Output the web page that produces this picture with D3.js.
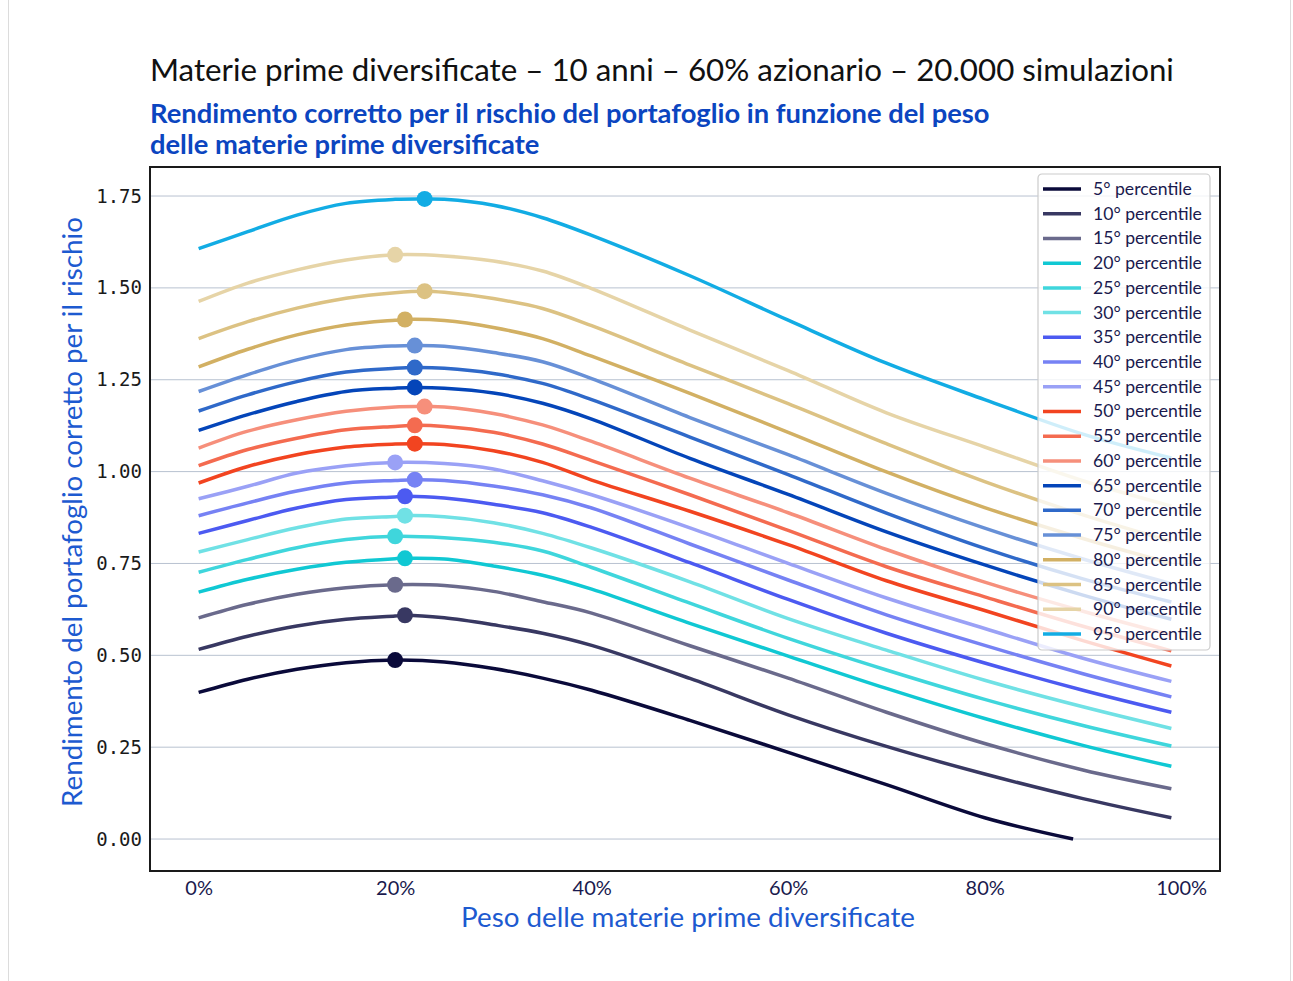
<!DOCTYPE html>
<html>
<head>
<meta charset="utf-8">
<script src="https://cdn.jsdelivr.net/npm/d3@7/dist/d3.min.js"></script>
<style>
  body { margin: 0; background: #fff; }
  svg { display: block; }
</style>
</head>
<body>
<script>
// pesi delle materie prime (%)
var weights = [0, 5, 10, 15, 20, 25, 30, 35, 40, 50, 60, 70, 80, 90, 99];

var p05 = [0.399, 0.435, 0.462, 0.480, 0.487, 0.482, 0.464, 0.438, 0.405, 0.323, 0.236, 0.148, 0.058, null, null];
var p10 = [0.516, 0.552, 0.580, 0.598, 0.607, 0.602, 0.583, 0.560, 0.527, 0.437, 0.338, 0.252, 0.177, 0.110, 0.058];
var p15 = [0.602, 0.639, 0.666, 0.684, 0.692, 0.690, 0.674, 0.646, 0.615, 0.526, 0.438, 0.345, 0.260, 0.188, 0.137];
var p20 = [0.672, 0.707, 0.734, 0.753, 0.763, 0.762, 0.743, 0.718, 0.680, 0.587, 0.498, 0.410, 0.328, 0.255, 0.198];
var p25 = [0.726, 0.761, 0.793, 0.815, 0.824, 0.820, 0.808, 0.784, 0.739, 0.642, 0.546, 0.460, 0.380, 0.309, 0.253];
var p30 = [0.781, 0.815, 0.847, 0.871, 0.878, 0.877, 0.861, 0.832, 0.792, 0.700, 0.600, 0.514, 0.432, 0.360, 0.301];
var p35 = [0.832, 0.867, 0.901, 0.924, 0.931, 0.928, 0.911, 0.888, 0.848, 0.752, 0.652, 0.560, 0.479, 0.405, 0.345];
var p40 = [0.880, 0.915, 0.947, 0.969, 0.976, 0.976, 0.961, 0.937, 0.901, 0.803, 0.705, 0.610, 0.527, 0.450, 0.387];
var p45 = [0.926, 0.960, 0.996, 1.016, 1.025, 1.022, 1.007, 0.975, 0.937, 0.847, 0.750, 0.656, 0.573, 0.492, 0.429];
var p50 = [0.969, 1.014, 1.046, 1.067, 1.075, 1.074, 1.057, 1.025, 0.977, 0.892, 0.801, 0.703, 0.622, 0.540, 0.471];
var p55 = [1.016, 1.060, 1.091, 1.114, 1.123, 1.123, 1.107, 1.075, 1.030, 0.937, 0.840, 0.741, 0.659, 0.579, 0.512];
var p60 = [1.064, 1.110, 1.141, 1.164, 1.176, 1.176, 1.158, 1.127, 1.082, 0.982, 0.888, 0.788, 0.699, 0.620, 0.555];
var p65 = [1.112, 1.155, 1.191, 1.218, 1.227, 1.227, 1.214, 1.186, 1.143, 1.036, 0.938, 0.836, 0.746, 0.664, 0.598];
var p70 = [1.165, 1.209, 1.245, 1.271, 1.281, 1.281, 1.267, 1.240, 1.196, 1.094, 0.992, 0.887, 0.791, 0.708, 0.645];
var p75 = [1.218, 1.264, 1.304, 1.332, 1.342, 1.341, 1.324, 1.299, 1.253, 1.147, 1.046, 0.941, 0.846, 0.762, 0.695];
var p80 = [1.285, 1.333, 1.372, 1.399, 1.412, 1.411, 1.392, 1.362, 1.314, 1.213, 1.107, 0.999, 0.902, 0.818, 0.750];
var p85 = [1.362, 1.408, 1.445, 1.472, 1.487, 1.488, 1.471, 1.444, 1.397, 1.290, 1.185, 1.076, 0.973, 0.882, 0.810];
var p90 = [1.463, 1.513, 1.549, 1.576, 1.590, 1.587, 1.573, 1.546, 1.498, 1.385, 1.275, 1.160, 1.067, 0.975, 0.906];
var p95 = [1.607, 1.653, 1.698, 1.730, 1.741, 1.741, 1.725, 1.691, 1.643, 1.533, 1.412, 1.295, 1.196, 1.102, 1.037];

// il 5° percentile si ferma a zero
var end05 = [89, 0.0];

var percentiles = [5, 10, 15, 20, 25, 30, 35, 40, 45, 50, 55, 60, 65, 70, 75, 80, 85, 90, 95];
var allValues = [p05, p10, p15, p20, p25, p30, p35, p40, p45, p50, p55, p60, p65, p70, p75, p80, p85, p90, p95];

// massimi (punti)
var peakWeights = [20, 21, 20, 21, 20, 21, 21, 22, 20, 22, 22, 23, 22, 22, 22, 21, 23, 20, 23];
var peakValues = [0.487, 0.609, 0.692, 0.764, 0.824, 0.880, 0.933, 0.978, 1.025, 1.076, 1.126, 1.177, 1.229, 1.283, 1.343, 1.414, 1.491, 1.590, 1.742];

var colors = ["#0a0a3a", "#383862", "#6a6a8c", "#10c8d3", "#3fd6dc", "#70e1e5",
              "#4c5af1", "#7682f4", "#9aa1f6", "#f24420", "#f46b50", "#f68f7b",
              "#0445b9", "#2f69c9", "#6790d7", "#d2b063", "#dcc283", "#e6d4a7", "#12ace4"];

var xTicks = [0, 20, 40, 60, 80, 100];
var yTicks = [0, 0.25, 0.5, 0.75, 1.0, 1.25, 1.5, 1.75];

var svgWidth = 1293;
var svgHeight = 981;
var plot = { left: 150, top: 167, right: 1220, bottom: 871 };

var svg = d3.select("body").append("svg")
    .attr("width", svgWidth)
    .attr("height", svgHeight);

svg.append("rect")
    .attr("x", 8.5).attr("y", -1)
    .attr("width", 1282).attr("height", 990)
    .attr("fill", "#fff")
    .attr("stroke", "#dcdcdc");

var sans = "'Source Sans Pro', Lato, 'Noto Sans', sans-serif";

function fitWidth(sel, w) {
    var len = sel.node().getComputedTextLength();
    var fs = parseFloat(sel.attr("font-size"));
    sel.attr("font-size", fs * w / len);
}

var title = svg.append("text")
    .attr("x", 150).attr("y", 81)
    .attr("font-family", sans).attr("font-size", 30)
    .attr("fill", "#111")
    .text("Materie prime diversificate \u2013 10 anni \u2013 60% azionario \u2013 20.000 simulazioni");
fitWidth(title, 1024);

var sub1 = svg.append("text")
    .attr("x", 150).attr("y", 123)
    .attr("font-family", sans).attr("font-size", 24).attr("font-weight", "bold")
    .attr("fill", "#0b45c0")
    .text("Rendimento corretto per il rischio del portafoglio in funzione del peso");
fitWidth(sub1, 840);
svg.append("text")
    .attr("x", 150).attr("y", 154)
    .attr("font-family", sans).attr("font-size", sub1.attr("font-size")).attr("font-weight", "bold")
    .attr("fill", "#0b45c0")
    .text("delle materie prime diversificate");

var x = d3.scaleLinear().domain([-4.95, 103.95]).range([plot.left, plot.right]);
var y = d3.scaleLinear().domain([-0.087, 1.829]).range([plot.bottom, plot.top]);

// griglia
svg.append("g")
    .selectAll("line")
    .data(yTicks)
    .enter().append("line")
    .attr("x1", plot.left).attr("x2", plot.right)
    .attr("y1", d => y(d)).attr("y2", d => y(d))
    .attr("stroke", "#b8c2d0").attr("stroke-width", 1);

// assi
var leftAxis = d3.axisLeft(y).tickValues(yTicks).tickFormat(d3.format(".2f")).tickSize(0).tickPadding(8);
var gy = svg.append("g")
    .attr("transform", `translate(${plot.left}, 0)`)
    .call(leftAxis);
gy.select(".domain").remove();
gy.selectAll("text")
    .attr("font-family", "'DejaVu Sans Mono', monospace")
    .attr("font-size", 19)
    .attr("fill", "#1a1a1a");

var bottomAxis = d3.axisBottom(x).tickValues(xTicks).tickFormat(d => d + "%").tickSize(0).tickPadding(10);
var gx = svg.append("g")
    .attr("transform", `translate(0, ${plot.bottom})`)
    .call(bottomAxis);
gx.select(".domain").remove();
gx.selectAll("text")
    .attr("font-family", sans)
    .attr("font-size", 20)
    .attr("fill", "#1a1a4e");

// serie
var series = allValues.map(function(vals, i) {
    var pts = [];
    weights.forEach(function(w, j) {
        if (vals[j] != null && w !== peakWeights[i]) pts.push({ w: w, v: vals[j] });
    });
    pts.push({ w: peakWeights[i], v: peakValues[i] });
    if (i === 0) pts.push({ w: end05[0], v: end05[1] });
    pts.sort((a, b) => a.w - b.w);
    return { name: percentiles[i] + "\u00b0 percentile", color: colors[i], points: pts,
             peak: { w: peakWeights[i], v: peakValues[i] } };
});

var line = d3.line()
    .x(d => x(d.w))
    .y(d => y(d.v))
    .curve(d3.curveCatmullRom.alpha(0.5));

svg.append("g").selectAll("path")
    .data(series)
    .enter().append("path")
    .attr("d", d => line(d.points))
    .attr("fill", "none")
    .attr("stroke", d => d.color)
    .attr("stroke-width", 3.5)
    .attr("stroke-linejoin", "round");

svg.append("g").selectAll("circle")
    .data(series)
    .enter().append("circle")
    .attr("cx", d => x(d.peak.w))
    .attr("cy", d => y(d.peak.v))
    .attr("r", 8)
    .attr("fill", d => d.color);

// cornice
svg.append("rect")
    .attr("x", plot.left).attr("y", plot.top)
    .attr("width", plot.right - plot.left).attr("height", plot.bottom - plot.top)
    .attr("fill", "none").attr("stroke", "#1a1a1a").attr("stroke-width", 2);

// legenda
var legend = svg.append("g").attr("transform", "translate(1038, 174)");
legend.append("rect")
    .attr("width", 172).attr("height", 476)
    .attr("rx", 4)
    .attr("fill", "#fff").attr("fill-opacity", 0.8)
    .attr("stroke", "#cccccc").attr("stroke-width", 1.2);

var items = legend.selectAll("g.item")
    .data(series)
    .enter().append("g")
    .attr("class", "item")
    .attr("transform", (d, i) => `translate(0, ${15 + i * 24.72})`);
items.append("line")
    .attr("x1", 5).attr("x2", 43)
    .attr("stroke", d => d.color).attr("stroke-width", 3.5);
items.append("text")
    .attr("x", 55).attr("y", 6)
    .attr("font-family", sans).attr("font-size", 17.6)
    .attr("fill", "#1a1a4e")
    .text(d => d.name);

// titoli assi
var xl = svg.append("text")
    .attr("x", 688).attr("y", 927)
    .attr("text-anchor", "middle")
    .attr("font-family", sans).attr("font-size", 26)
    .attr("fill", "#1d5ad0")
    .text("Peso delle materie prime diversificate");
fitWidth(xl, 454);

var yl = svg.append("text")
    .attr("transform", "translate(82, 512) rotate(-90)")
    .attr("text-anchor", "middle")
    .attr("font-family", sans).attr("font-size", 26)
    .attr("fill", "#1d5ad0")
    .text("Rendimento del portafoglio corretto per il rischio");
fitWidth(yl, 590);
</script>
</body>
</html>
